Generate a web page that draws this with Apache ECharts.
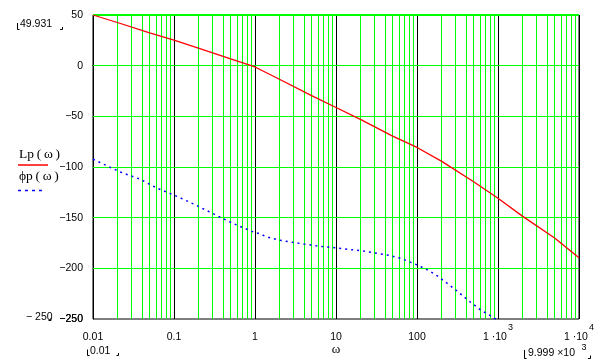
<!DOCTYPE html>
<html><head><meta charset="utf-8">
<script src="https://cdn.jsdelivr.net/npm/echarts/dist/echarts.min.js"></script>
<style>html,body{margin:0;padding:0;background:#fff}#c{width:603px;height:361px}</style>
</head><body><div id="c"></div>
<script>
// ---- data ----
const omegaLp = [0.01, 0.02, 0.05, 0.1, 0.2, 0.5, 1, 2, 5, 10, 20, 50, 100, 200, 500, 1000, 2000, 5000, 10000];
const Lp      = [50, 42.6, 32.4, 25.2, 17.3, 6.6, -1.3, -13.4, -29.5, -41.3, -53, -69.5, -80.7, -94.2, -114.6, -130.8, -148.5, -170, -189.5];
const omegaPhi = [0.01, 0.0215, 0.038, 0.063, 0.107, 0.18, 0.317, 0.535, 0.916, 1.2, 1.34, 1.95, 3.57, 6.43, 9.64, 14.3, 21.3, 45.5, 63.4, 96.9, 128.7, 167.6, 230.8, 324, 439, 612, 867, 1000];
const phi      = [-92.3, -104.8, -112, -121.2, -128.7, -137, -146.8, -155.7, -163.5, -166.5, -168.5, -172.1, -175.4, -178.3, -179.7, -181.3, -182.7, -187.2, -190.2, -196.1, -200.7, -205.9, -214.2, -223.4, -232.3, -241.1, -248.3, -251.7];
const xTicks = [0.01, 0.1, 1, 10, 100, 1000, 10000];
const xTickLabels = ['{a|0.01}', '{a|0.1}', '{a|1}', '{a|10}', '{a|100}', '{a|1 ·10}{s|3}', '{a|1 ·10}{s|4}'];
const yTicks = [-250, -200, -150, -100, -50, 0, 50];
const greenY = [-200, -150, -100, -50, 0];
const minorMult = [2, 3, 4, 5, 6, 7, 8, 9];

const minorX = [];
xTicks.slice(0, -1).forEach(d => minorMult.forEach(m => minorX.push(+(d * m).toPrecision(6))));

const NUM = '"Liberation Sans", Arial, sans-serif';
const SERIF = '"Liberation Serif", "Times New Roman", serif';
const GREEN = '#00ff00';
const yFmt = v => (v < 0 ? '\u2212' + Math.abs(v) : String(v));

const chart = echarts.init(document.getElementById('c'), null, {renderer: 'canvas'});
chart.setOption({
  animation: false,
  backgroundColor: '#fff',
  grid: {left: 93, right: 24, top: 15, bottom: 42, show: true, borderColor: '#000', borderWidth: 1, containLabel: false, outerBoundsMode: 'none'},
  xAxis: {
    type: 'log', logBase: 10, min: 0.01, max: 10000, splitNumber: 6,
    axisLine: {show: true, lineStyle: {color: '#000', width: 1}},
    axisTick: {show: false},
    splitLine: {show: true, lineStyle: {color: '#000', width: 1}},
    minorTick: {show: false}, minorSplitLine: {show: false},
    axisLabel: {
      margin: 4, color: '#000', showMinLabel: true, showMaxLabel: true, hideOverlap: false,
      formatter: v => xTickLabels[Math.round(Math.log10(v)) + 2],
      rich: {
        a: {fontSize: 10.5, fontFamily: NUM, color: '#000', lineHeight: 20, verticalAlign: 'bottom'},
        s: {fontSize: 9, fontFamily: NUM, color: '#000', lineHeight: 10, verticalAlign: 'top', padding: [0, 0, 0, 1]}
      }
    }
  },
  yAxis: [{
    type: 'value', min: -250, max: 50, interval: 50,
    axisLine: {show: true, lineStyle: {color: '#000', width: 1}},
    axisTick: {show: false},
    splitLine: {show: false},
    axisLabel: {
      margin: 10, color: '#000', fontSize: 10.5, fontFamily: NUM,
      showMinLabel: true, showMaxLabel: true, hideOverlap: false,
      formatter: yFmt
    }
  }, {
    // overlay axis, same scale, used only to show the lower tick label
    type: 'value', position: 'left', min: -250, max: 50, interval: 50,
    axisLine: {show: false}, axisTick: {show: false}, splitLine: {show: false},
    axisLabel: {
      margin: 10, color: '#000', fontSize: 10.5, fontFamily: NUM,
      showMinLabel: true, showMaxLabel: false, hideOverlap: false,
      formatter: v => (v === yTicks[0] ? yFmt(v) : '')
    }
  }],
  series: [
    {
      type: 'line', data: [[0.01, -1000]], symbol: 'none', lineStyle: {opacity: 0}, silent: true, z: 1,
      markLine: {
        silent: true, symbol: 'none', z: 1, animation: false,
        label: {show: false},
        lineStyle: {color: GREEN, width: 1, type: 'solid'},
        emphasis: {disabled: true},
        data: minorX.map(v => ({xAxis: v}))
          .concat(greenY.map(v => ({yAxis: v})))
          .concat([{yAxis: yTicks[yTicks.length - 1], lineStyle: {color: GREEN, width: 2, type: 'solid'}}])
      }
    },
    {
      name: 'Lp', type: 'line', z: 10, symbol: 'none', showSymbol: false,
      data: omegaLp.map((w, i) => [w, Lp[i]]),
      lineStyle: {color: '#ff0000', width: 1.3}
    },
    {
      name: 'phi', type: 'line', z: 10, symbol: 'none', showSymbol: false,
      data: omegaPhi.map((w, i) => [w, phi[i]]),
      lineStyle: {color: '#0000ff', width: 1.5, type: [2, 4]}
    }
  ],
  graphic: [
    // top-left y limit
    {type: 'text', x: 20, y: 24, style: {text: '49.931', font: '10.5px ' + NUM, fill: '#000', align: 'left', verticalAlign: 'middle'}},
    {type: 'polyline', shape: {points: [[17.5, 23], [17.5, 29.5], [19.5, 29.5]]}, style: {stroke: '#000', fill: null, lineWidth: 1}},
    {type: 'polyline', shape: {points: [[60, 29.5], [62.5, 29.5], [62.5, 27]]}, style: {stroke: '#000', fill: null, lineWidth: 1}},
    // bottom y limit
    {type: 'text', x: 26, y: 317, style: {text: '\u2212 250', font: '10.5px ' + NUM, fill: '#000', align: 'left', verticalAlign: 'middle'}},
    {type: 'polyline', shape: {points: [[48.5, 320.5], [51, 320.5], [51, 318]]}, style: {stroke: '#000', fill: null, lineWidth: 1}},
    // x limits
    {type: 'text', x: 90, y: 351, style: {text: '0.01', font: '10.5px ' + NUM, fill: '#000', align: 'left', verticalAlign: 'middle'}},
    {type: 'polyline', shape: {points: [[87.5, 349.5], [87.5, 355.5], [89.5, 355.5]]}, style: {stroke: '#000', fill: null, lineWidth: 1}},
    {type: 'polyline', shape: {points: [[116.5, 355.5], [118.5, 355.5], [118.5, 353]]}, style: {stroke: '#000', fill: null, lineWidth: 1}},
    {type: 'text', x: 528, y: 353.5, style: {text: '9.999 ×10', font: '10.5px ' + NUM, fill: '#000', align: 'left', verticalAlign: 'middle'}},
    {type: 'text', x: 581.5, y: 347.5, style: {text: '3', font: '9px ' + NUM, fill: '#000', align: 'left', verticalAlign: 'middle'}},
    {type: 'polyline', shape: {points: [[524.5, 350], [524.5, 358.5], [526.5, 358.5]]}, style: {stroke: '#000', fill: null, lineWidth: 1}},
    {type: 'polyline', shape: {points: [[588, 358.5], [590.5, 358.5], [590.5, 355.5]]}, style: {stroke: '#000', fill: null, lineWidth: 1}},
    // x-axis variable
    {type: 'text', x: 336, y: 349.5, style: {text: 'ω', font: '13px ' + SERIF, fill: '#000', align: 'center', verticalAlign: 'middle'}},
    // legend
    {type: 'text', x: 19, y: 154.5, style: {text: 'Lp\u2009(\u2009ω\u2009)', font: '13.5px ' + SERIF, fill: '#000', align: 'left', verticalAlign: 'middle'}},
    {type: 'line', shape: {x1: 18, y1: 165, x2: 48, y2: 165}, style: {stroke: '#ff0000', lineWidth: 1.5}},
    {type: 'text', x: 19, y: 176.5, style: {text: 'ϕp\u2009(\u2009ω\u2009)', font: '13.5px ' + SERIF, fill: '#000', align: 'left', verticalAlign: 'middle'}},
    {type: 'line', shape: {x1: 18, y1: 190.5, x2: 42, y2: 190.5}, style: {stroke: '#0000ff', lineWidth: 1.5, lineDash: [3, 4]}}
  ]
});
</script>
</body></html>
